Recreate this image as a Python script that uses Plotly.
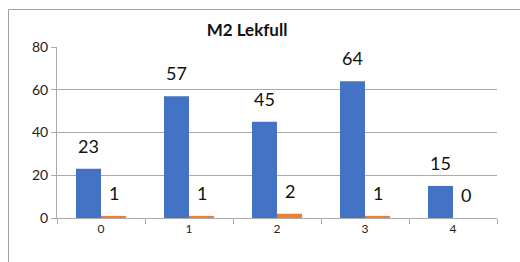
import plotly.graph_objects as go

categories = ["0", "1", "2", "3", "4"]
series_a = [23, 57, 45, 64, 15]
series_b = [1, 1, 2, 1, 0]
y_ticks = [0, 20, 40, 60, 80]
title_text = "M2 Lekfull"

BLUE = "#4472C4"
ORANGE = "#ED7D31"
GRID = "#ABABAB"
FONT = "Lato, Carlito, Calibri, sans-serif"

W, H = 520, 262
ML, MR, MT, MB = 57, 23, 47, 44
PW, PH = W - ML - MR, H - MT - MB

fig = go.Figure()
fig.add_trace(go.Bar(x=categories, y=series_a, marker=dict(color=BLUE, line=dict(width=0)), name="A"))
fig.add_trace(go.Bar(x=categories, y=series_b, marker=dict(color=ORANGE, line=dict(width=0)), name="B"))

annotations = []
for cat, va, vb in zip(categories, series_a, series_b):
    annotations.append(dict(x=cat, y=va, xref="x", yref="y", text=str(va), showarrow=False,
                            xshift=-12.5, yshift=23, yanchor="middle",
                            font=dict(family=FONT, size=18, color="#111")))
    annotations.append(dict(x=cat, y=vb, xref="x", yref="y", text=str(vb), showarrow=False,
                            xshift=12.5, yshift=23, yanchor="middle",
                            font=dict(family=FONT, size=18, color="#111")))

def px_to_paper_x(px):
    return (px - ML) / PW

def px_to_paper_y(py):
    return (H - MB - py) / PH

fig.update_layout(
    width=W, height=H,
    margin=dict(l=ML, r=MR, t=MT, b=MB, pad=0),
    paper_bgcolor="white", plot_bgcolor="white",
    showlegend=False,
    barmode="group", bargap=0.432, bargroupgap=0,
    title=dict(text="<b>" + title_text + "</b>", x=247 / W, xref="container", xanchor="center",
               y=1 - 30 / H, yref="container", yanchor="middle",
               font=dict(family=FONT, size=17, color="#111")),
    xaxis=dict(type="category", tickson="boundaries", ticks="outside", ticklen=5, tickcolor=GRID,
               showline=True, linecolor=GRID, linewidth=1, showgrid=False,
               tickfont=dict(family=FONT, size=12, color="#222"), fixedrange=True),
    yaxis=dict(range=[0, 80], tickvals=y_ticks, ticks="outside", ticklen=5, tickcolor=GRID,
               showline=True, linecolor=GRID, linewidth=1, showgrid=True, gridcolor=GRID, gridwidth=1,
               zeroline=False, tickfont=dict(family=FONT, size=14, color="#222"), fixedrange=True),
    annotations=annotations,
    shapes=[dict(type="rect", xref="paper", yref="paper",
                 x0=px_to_paper_x(8.5), x1=px_to_paper_x(540),
                 y0=px_to_paper_y(300), y1=px_to_paper_y(9.5),
                 line=dict(color="#A0A0A0", width=1), fillcolor="rgba(0,0,0,0)", layer="below")],
)

fig.write_html("out.html", config={"displayModeBar": False},
               post_script="document.body.style.margin='0';document.body.style.padding='0';document.body.style.overflow='hidden';")
